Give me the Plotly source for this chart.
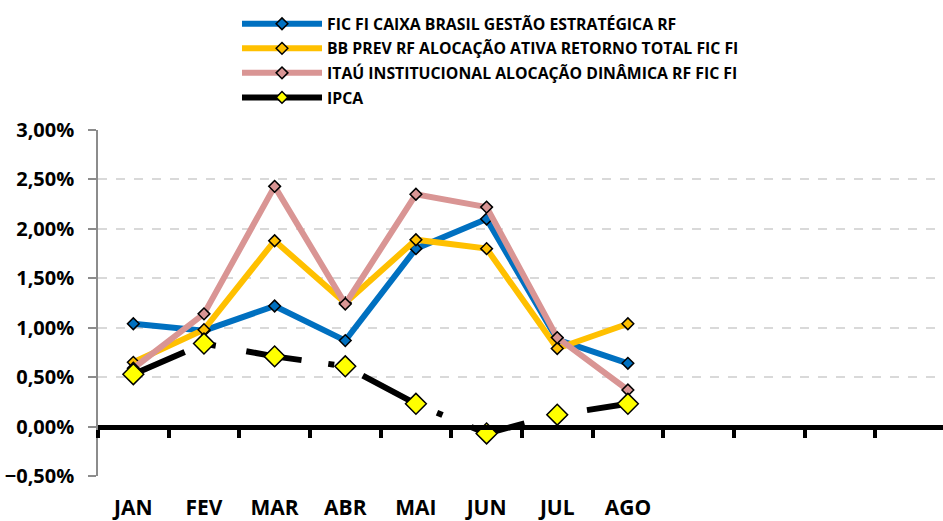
import plotly.graph_objects as go

months = ["JAN", "FEV", "MAR", "ABR", "MAI", "JUN", "JUL", "AGO", "SET", "OUT", "NOV", "DEZ"]
month_labels = ["JAN", "FEV", "MAR", "ABR", "MAI", "JUN", "JUL", "AGO", "", "", "", ""]
data_months = ["JAN", "FEV", "MAR", "ABR", "MAI", "JUN", "JUL", "AGO"]

caixa = [1.04, 0.97, 1.22, 0.87, 1.80, 2.10, 0.88, 0.64]
bb = [0.65, 0.98, 1.88, 1.25, 1.89, 1.80, 0.79, 1.04]
itau = [0.59, 1.14, 2.43, 1.24, 2.35, 2.22, 0.90, 0.37]
ipca = [0.53, 0.84, 0.71, 0.61, 0.23, -0.07, 0.12, 0.23]

names = [
    "FIC FI CAIXA BRASIL GESTÃO ESTRATÉGICA RF",
    "BB PREV RF ALOCAÇÃO ATIVA RETORNO TOTAL FIC FI",
    "ITAÚ INSTITUCIONAL ALOCAÇÃO DINÂMICA RF FIC FI",
    "IPCA",
]
colors = ["#0070C0", "#FFC000", "#D99594", "#000000"]

FONT = "Open Sans"

fig = go.Figure()
for i, (vals, name, col) in enumerate(zip([caixa, bb, itau], names[:3], colors[:3])):
    fig.add_trace(go.Scatter(
        x=data_months, y=vals, name=name, mode="lines+markers",
        legendgroup=f"g{i}",
        line=dict(color=col, width=6),
        marker=dict(symbol="diamond", size=9, color=col, line=dict(color="black", width=1.5)),
    ))

fig.add_trace(go.Scatter(
    x=data_months, y=ipca, name=names[3], mode="lines+markers",
    legendgroup="g3", showlegend=False,
    line=dict(color="black", width=6, dash="56px,27px,6px,31px"),
    marker=dict(symbol="diamond", size=16, color="#FFFF00", line=dict(color="black", width=1.5)),
))
# legend entry for IPCA (small marker as in the reference legend)
fig.add_trace(go.Scatter(
    x=[None], y=[None], name=names[3], mode="lines+markers",
    legendgroup="g3",
    line=dict(color="black", width=6),
    marker=dict(symbol="diamond", size=9, color="#FFFF00", line=dict(color="black", width=1.5)),
))

# dummy trace for the zero-positioned axis
fig.add_trace(go.Scatter(x=data_months, y=[None] * len(data_months), xaxis="x2",
                         showlegend=False, hoverinfo="skip"))

fig.update_layout(
    width=943, height=521,
    margin=dict(l=98, r=0, t=130, b=45, autoexpand=False),
    paper_bgcolor="white", plot_bgcolor="white",
    separators=",.",
    showlegend=True,
    legend=dict(
        x=(237 - 98) / 845, y=1 + (130 - 7) / 346, xanchor="left", yanchor="top",
        font=dict(family=FONT, size=15.8, color="black", weight="bold"),
        traceorder="grouped", tracegroupgap=1,
        itemwidth=80,
        bgcolor="rgba(0,0,0,0)",
    ),
    xaxis=dict(
        type="category", categoryorder="array", categoryarray=months,
        tickvals=months, ticktext=month_labels,
        range=[-0.5, 11.46], tickangle=0,
        showline=False, ticks="", showgrid=False, zeroline=False,
        tickfont=dict(family=FONT, size=21, color="black", weight="bold"),
        ticklabelstandoff=17,
    ),
    xaxis2=dict(
        type="category", categoryorder="array", categoryarray=months,
        overlaying="x", matches="x", anchor="free", position=0.5 / 3.5,
        showline=True, linewidth=5, linecolor="black",
        ticks="outside", tickson="boundaries", ticklen=8, tickwidth=4, tickcolor="black",
        showticklabels=False, showgrid=False, zeroline=False,
    ),
    yaxis=dict(
        range=[-0.5, 3.0], dtick=0.5, tick0=0,
        tickformat=".2f", ticksuffix="%",
        showline=True, linewidth=1.5, linecolor="#8c8c8c",
        ticks="outside", ticklen=8, tickwidth=1.5, tickcolor="#8c8c8c",
        showgrid=True, gridcolor="#d9d9d9", gridwidth=1.5, griddash="dash",
        zeroline=False,
        tickfont=dict(family=FONT, size=20, color="black", weight="bold"),
        ticklabelstandoff=10,
    ),
)

fig.write_html("out.html", config={"displayModeBar": False},
               post_script="document.body.style.margin='0px';")
